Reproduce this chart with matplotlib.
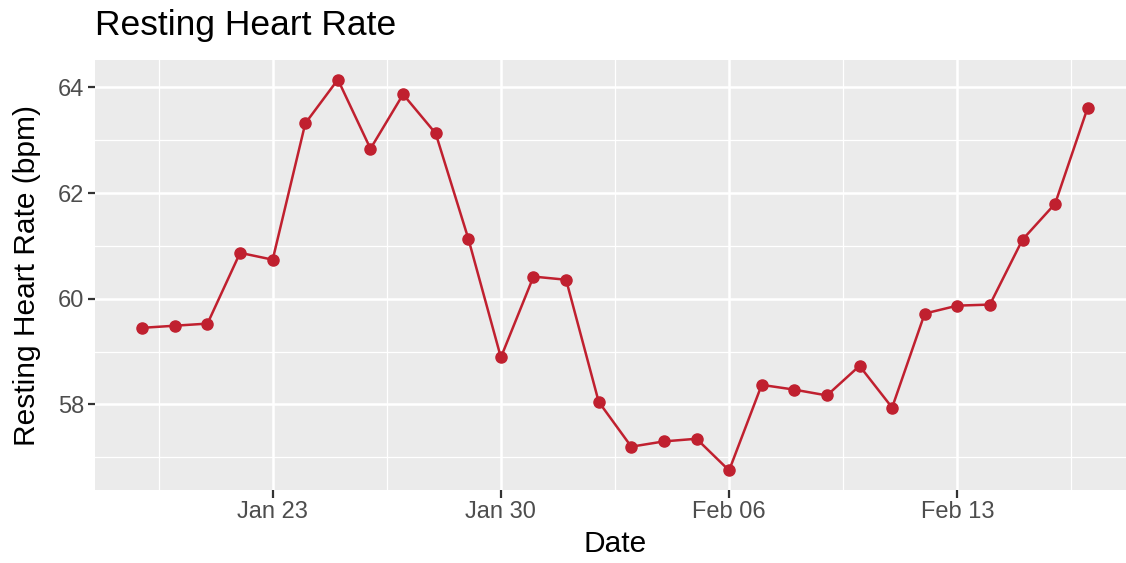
import numpy as np
import pandas as pd
import matplotlib
matplotlib.use('Agg')
import matplotlib.pyplot as plt
import matplotlib.dates as mdates

# daily resting heart rate, Jan 19 - Feb 17
dates = pd.date_range('2021-01-19', '2021-02-17', freq='D')
rhr = [59.45, 59.49, 59.53, 60.87, 60.74, 63.32, 64.15, 62.84, 63.87, 63.13,
       61.14, 58.89, 60.42, 60.36, 58.05, 57.20, 57.30, 57.35, 56.75, 58.37,
       58.28, 58.17, 58.73, 57.94, 59.72, 59.87, 59.89, 61.12, 61.80, 63.62]

tick_dates = pd.to_datetime(['2021-01-23', '2021-01-30', '2021-02-06', '2021-02-13'])
tick_labels = ['Jan 23', 'Jan 30', 'Feb 06', 'Feb 13']
minor_dates = pd.to_datetime(['2021-01-19 12:00', '2021-01-26 12:00', '2021-02-02 12:00',
                              '2021-02-09 12:00', '2021-02-16 12:00'])
y_major = [58, 60, 62, 64]
y_minor = [57, 59, 61, 63]

plt.rcParams['font.family'] = ['Liberation Sans', 'DejaVu Sans']

fig = plt.figure(figsize=(11.26, 5.63), dpi=100)
ax = fig.add_axes([95 / 1126, 1 - 490 / 563, (1135 - 95) / 1126, (490 - 60) / 563])
ax.set_facecolor('#EBEBEB')

x = mdates.date2num(dates)
span = x[-1] - x[0]
ax.set_xlim(x[0] - 0.05 * span, x[-1] + 0.05 * span)
yr = max(rhr) - min(rhr)
ax.set_ylim(min(rhr) - 0.05 * yr, max(rhr) + 0.05 * yr)

# grid
for d in mdates.date2num(minor_dates):
    ax.axvline(d, color='white', lw=0.9, zorder=0)
for v in y_minor:
    ax.axhline(v, color='white', lw=0.9, zorder=0)
for d in mdates.date2num(tick_dates):
    ax.axvline(d, color='white', lw=1.8, zorder=0)
for v in y_major:
    ax.axhline(v, color='white', lw=1.8, zorder=0)

ax.plot(x, rhr, color='#C0202F', lw=1.8, marker='o', markersize=8, zorder=3)

ax.set_xticks(mdates.date2num(tick_dates))
ax.set_xticklabels(tick_labels)
ax.set_yticks(y_major)
ax.set_yticklabels([str(v) for v in y_major])
ax.tick_params(axis='both', colors='#333333', length=5.4, width=1.6,
               labelsize=17, labelcolor='#4D4D4D', pad=2.5)

for s in ax.spines.values():
    s.set_visible(False)

ax.set_xlabel('Date', fontsize=21.5, color='black', labelpad=5)
ax.set_ylabel('Resting Heart Rate (bpm)', fontsize=21.5, color='black', labelpad=12)
fig.text(95 / 1126, 1 - 9 / 563, 'Resting Heart Rate', fontsize=25.5,
         ha='left', va='top', color='black')

fig.savefig('out.png', dpi=100)
